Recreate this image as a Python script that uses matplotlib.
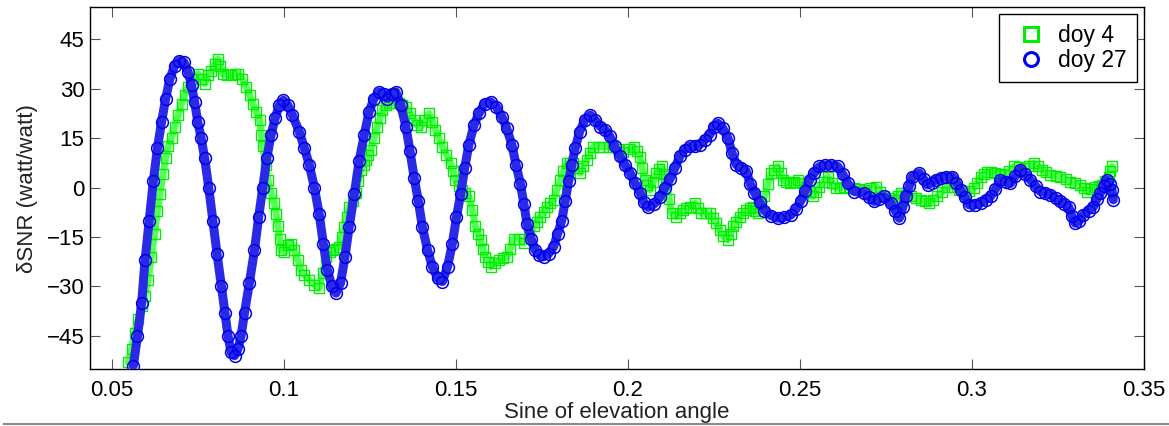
#!/usr/bin/env python3

import matplotlib
matplotlib.use('Agg')
import matplotlib.pyplot as plt
from matplotlib.lines import Line2D
import numpy as np


# doy 27 (blue circles)
doy27_x = [0.0563, 0.0575, 0.0587, 0.0597, 0.0609, 0.0621, 0.0633, 0.0645, 0.0657, 0.0669,
           0.0683, 0.0697, 0.0710, 0.0722, 0.0732, 0.0741, 0.0750, 0.0760, 0.0770, 0.0782,
           0.0794, 0.0806, 0.0819, 0.0829, 0.0838, 0.0847, 0.0857, 0.0867, 0.0876, 0.0886,
           0.0900, 0.0915, 0.0927, 0.0939, 0.0951, 0.0963, 0.0975, 0.0987, 0.0999, 0.1012,
           0.1025, 0.1045, 0.1060, 0.1074, 0.1089, 0.1103, 0.1115, 0.1127, 0.1140, 0.1152,
           0.1165, 0.1178, 0.1190, 0.1205, 0.1219, 0.1234, 0.1248, 0.1262, 0.1277, 0.1290,
           0.1301, 0.1314, 0.1326, 0.1340, 0.1355, 0.1367, 0.1379, 0.1391, 0.1403, 0.1418,
           0.1432, 0.1447, 0.1461, 0.1476, 0.1490, 0.1502, 0.1514, 0.1526, 0.1538, 0.1553,
           0.1567, 0.1584, 0.1601, 0.1618, 0.1634, 0.1648, 0.1663, 0.1675, 0.1688, 0.1698,
           0.1707, 0.1719, 0.1731, 0.1743, 0.1755, 0.1770, 0.1784, 0.1796, 0.1808, 0.1818,
           0.1828, 0.1837, 0.1847, 0.1860, 0.1875, 0.1891, 0.1905, 0.1920, 0.1934, 0.1948,
           0.1962, 0.1977, 0.1991, 0.2006, 0.2020, 0.2035, 0.2047, 0.2059, 0.2076, 0.2093,
           0.2108, 0.2122, 0.2137, 0.2151, 0.2166, 0.2180, 0.2195, 0.2209, 0.2224, 0.2238,
           0.2250, 0.2262, 0.2276, 0.2291, 0.2303, 0.2315, 0.2330, 0.2344, 0.2356, 0.2368,
           0.2383, 0.2397, 0.2416, 0.2436, 0.2455, 0.2474, 0.2489, 0.2503, 0.2515, 0.2528,
           0.2542, 0.2557, 0.2574, 0.2590, 0.2610, 0.2625, 0.2639, 0.2658, 0.2687, 0.2702,
           0.2716, 0.2730, 0.2745, 0.2764, 0.2777, 0.2789, 0.2799, 0.2808, 0.2818, 0.2827,
           0.2847, 0.2860, 0.2871, 0.2883, 0.2895, 0.2910, 0.2924, 0.2943, 0.2955, 0.2967,
           0.2980, 0.2991, 0.3008, 0.3025, 0.3040, 0.3054, 0.3068, 0.3083, 0.3098, 0.3112,
           0.3126, 0.3141, 0.3155, 0.3170, 0.3185, 0.3199, 0.3213, 0.3228, 0.3243, 0.3257,
           0.3269, 0.3281, 0.3290, 0.3300, 0.3312, 0.3324, 0.3339, 0.3353, 0.3363, 0.3373,
           0.3383, 0.3392, 0.3400, 0.3407, 0.3411]
doy27_y = [-54, -45, -35, -22, -10, 2, 12, 20, 27, 33,
           37, 38.5, 38, 35, 31, 26, 20, 15, 9, 0,
           -10, -20, -30, -38, -45, -50, -51, -49, -45, -38,
           -29, -19, -9, 0, 9, 16, 21, 25, 26.5, 25,
           22, 17, 12, 7, 0, -8, -17, -25, -30, -32,
           -29, -21, -12, -2, 8, 16, 23, 27, 29, 28.5,
           27, 28.5, 29, 25, 18.5, 11, 3, -4, -12, -19,
           -24, -27.5, -28.5, -24, -17, -9, -2, 6, 13, 19,
           22.5, 25.5, 26, 24.5, 21.5, 18, 13, 7, 1, -5,
           -11, -15.5, -19, -20.5, -21, -20, -18, -14, -10, -4,
           2, 7, 12, 17, 20.5, 22, 20.5, 18.5, 17.5, 15.5,
           12.5, 9.5, 7, 4.5, 1.5, -1.5, -4.5, -6, -5, -3,
           0, 2.5, 6, 9.5, 11.5, 12.5, 12.5, 13, 14.5, 16,
           18.5, 19.5, 18, 15, 10.5, 7, 6, 5, 1, -1.5,
           -4.5, -7, -8.5, -9.3, -9, -8.3, -6.5, -4, -1, 2.3,
           4.5, 6.4, 6.8, 6.9, 6.4, 4, 1.3, -1.2, -1.7, -3,
           -4.2, -3.5, -2.7, -4.7, -7, -9.3, -6, -2.7, 0.5, 3.3,
           4.4, 2.5, 0.8, 1.5, 2.3, 3, 3.3, 3.3, 1.5, -0.7,
           -3, -5.2, -5.3, -4.7, -3.7, -2.7, -0.5, 2.3, 1.8, 1.3,
           3.5, 5.4, 4, 2.3, 0.5, -1.2, -1.5, -2.2, -3.2, -4.2,
           -5, -5.8, -8.5, -10.8, -10, -8.3, -7, -5.8, -3.5, -1.7,
           0.5, 2.3, 1, -0.7, -3.7]

# doy 4 (green squares)
doy4_x = [0.0548, 0.0558, 0.0567, 0.0577, 0.0587, 0.0596, 0.0606, 0.0615, 0.0625, 0.0633,
          0.0640, 0.0649, 0.0657, 0.0664, 0.0674, 0.0683, 0.0693, 0.0703, 0.0712, 0.0722,
          0.0737, 0.0751, 0.0760, 0.0770, 0.0780, 0.0790, 0.0800, 0.0809, 0.0816, 0.0823,
          0.0836, 0.0848, 0.0858, 0.0867, 0.0879, 0.0891, 0.0901, 0.0910, 0.0920, 0.0930,
          0.0935, 0.0939, 0.0947, 0.0954, 0.0963, 0.0973, 0.0978, 0.0983, 0.0988, 0.0992,
          0.1002, 0.1012, 0.1021, 0.1031, 0.1041, 0.1050, 0.1060, 0.1074, 0.1089, 0.1103,
          0.1113, 0.1123, 0.1133, 0.1142, 0.1152, 0.1161, 0.1168, 0.1176, 0.1183, 0.1190,
          0.1200, 0.1210, 0.1217, 0.1224, 0.1232, 0.1239, 0.1246, 0.1253, 0.1262, 0.1272,
          0.1280, 0.1287, 0.1296, 0.1306, 0.1320, 0.1335, 0.1345, 0.1355, 0.1367, 0.1379,
          0.1388, 0.1398, 0.1410, 0.1422, 0.1432, 0.1441, 0.1451, 0.1461, 0.1473, 0.1485,
          0.1492, 0.1499, 0.1509, 0.1519, 0.1528, 0.1538, 0.1548, 0.1557, 0.1565, 0.1572,
          0.1579, 0.1586, 0.1594, 0.1601, 0.1613, 0.1625, 0.1637, 0.1649, 0.1658, 0.1668,
          0.1683, 0.1697, 0.1712, 0.1726, 0.1736, 0.1746, 0.1755, 0.1765, 0.1775, 0.1784,
          0.1794, 0.1804, 0.1813, 0.1823, 0.1833, 0.1842, 0.1852, 0.1862, 0.1871, 0.1881,
          0.1891, 0.1900, 0.1915, 0.1929, 0.1944, 0.1958, 0.1972, 0.1987, 0.2002, 0.2017,
          0.2026, 0.2035, 0.2042, 0.2050, 0.2057, 0.2064, 0.2074, 0.2083, 0.2090, 0.2098,
          0.2105, 0.2112, 0.2120, 0.2127, 0.2141, 0.2151, 0.2161, 0.2170, 0.2180, 0.2195,
          0.2205, 0.2214, 0.2226, 0.2238, 0.2248, 0.2257, 0.2267, 0.2277, 0.2291, 0.2299,
          0.2306, 0.2315, 0.2325, 0.2335, 0.2344, 0.2354, 0.2364, 0.2371, 0.2378, 0.2388,
          0.2397, 0.2407, 0.2417, 0.2426, 0.2436, 0.2444, 0.2451, 0.2460, 0.2470, 0.2482,
          0.2494, 0.2506, 0.2518, 0.2528, 0.2537, 0.2547, 0.2557, 0.2569, 0.2581, 0.2593,
          0.2605, 0.2617, 0.2629, 0.2644, 0.2658, 0.2673, 0.2687, 0.2704, 0.2721, 0.2733,
          0.2745, 0.2760, 0.2774, 0.2784, 0.2793, 0.2808, 0.2822, 0.2837, 0.2851, 0.2863,
          0.2875, 0.2887, 0.2899, 0.2914, 0.2928, 0.2948, 0.2962, 0.2977, 0.2991, 0.3006,
          0.3015, 0.3025, 0.3034, 0.3044, 0.3056, 0.3068, 0.3081, 0.3093, 0.3108, 0.3122,
          0.3137, 0.3151, 0.3166, 0.3180, 0.3192, 0.3204, 0.3216, 0.3228, 0.3243, 0.3257,
          0.3272, 0.3286, 0.3300, 0.3315, 0.3325, 0.3335, 0.3346, 0.3358, 0.3368, 0.3378,
          0.3388, 0.3397, 0.3402, 0.3407]
doy4_y = [-53, -49, -44, -40, -36, -33, -28, -21, -14, -7,
          -2, 4, 9, 12.5, 15, 18.5, 22, 25.5, 28, 30.5,
          33, 34.5, 33, 31.5, 34, 35.5, 37.5, 39, 37, 34.5,
          34, 34, 34.5, 34.5, 33, 30.5, 28, 25.5, 23, 20.5,
          16, 12.5, 7, 2.3, -1.5, -4.7, -8, -11.8, -15.5, -19,
          -19.5, -17.5, -17, -19, -22, -25, -26.5, -28, -29.5, -30.5,
          -26, -21, -19.5, -19, -18.5, -18, -15, -12, -9, -6,
          -4, -1.7, 2, 5.4, 7, 8.4, 10, 11.5, 15, 18.5,
          21, 23.5, 25, 25.6, 25.6, 25.6, 25, 24.5, 22.5, 20.5,
          19, 18.5, 20.5, 22.5, 20, 17.5, 15, 12.4, 10, 7.4,
          5, 2.3, 0.5, -0.7, -1.7, -2.7, -6.8, -11.8, -14, -15.8,
          -18.5, -21, -22.5, -24, -23, -22, -21.5, -21, -18.5, -15.5,
          -15.5, -16.8, -14.5, -11.8, -10.3, -8.8, -7.3, -5.8, -4.8, -3.7,
          -0.7, 2.3, 5, 7.4, 7.4, 7.4, 6, 4.4, 6.5, 8.4,
          10.5, 12.4, 12.4, 12.4, 12.4, 12.4, 11.6, 10.9, 11.6, 12.4,
          11, 9.4, 6, 2.3, 0.8, -0.7, 1.8, 4.4, 5.5, 6.4,
          4, 1.3, -3.5, -7.8, -8.8, -7.8, -6.8, -6.3, -5.8, -4.7,
          -6.3, -7.8, -7.8, -7.8, -9.3, -10.8, -12.8, -14.8, -15.8, -14,
          -11.8, -10.3, -8.8, -7.8, -6.8, -6.3, -5.8, -7, -7.8, -5,
          -2.7, 1, 4.4, 5.4, 6.4, 4.3, 2.3, 1.8, 1.3, 1.8,
          2.3, 1.3, 0.3, -1.2, -2.7, -1.2, 0.3, 1.8, 3.3, 1.5,
          -0.2, 0, 0.3, 0, -0.2, -0.5, -0.7, -0.2, 0.3, -1.2,
          -2.7, -3.2, -3.7, -2.7, -1.7, -2.2, -2.7, -3.2, -3.7, -4.2,
          -4.7, -3.7, -2.7, -1.2, 0.3, 0.3, -0.7, -1.7, -1, -0.2,
          1.5, 3.3, 4, 4.8, 4.6, 4.4, 4.1, 3.8, 5.1, 6.4,
          6.1, 5.9, 6.6, 7.4, 6.4, 5.4, 4.6, 3.8, 3.5, 3.3,
          2.5, 1.8, 1.3, 0.8, -0.2, -1.2, -0.5, 0.3, 0.5, 0.8,
          2, 3.3, 5, 6.4]

x_ticks = [0.05, 0.1, 0.15, 0.2, 0.25, 0.3, 0.35]
x_tick_labels = ['0.05', '0.1', '0.15', '0.2', '0.25', '0.3', '0.35']
y_ticks = [-45, -30, -15, 0, 15, 30, 45]


def main():

    plt.rcParams['font.family'] = ['Liberation Sans', 'DejaVu Sans']

    fig = plt.figure(figsize=(11.69, 4.26), dpi=100)
    ax = fig.add_axes([0.077, 0.134, 0.9016, 0.849])

    # green band, then hollow squares on top
    ax.plot(doy4_x, doy4_y, color='#55ff55', linewidth=5, solid_capstyle='round', zorder=2)
    ax.plot(doy4_x, doy4_y, linestyle='none', marker='s', markersize=6.5,
            markerfacecolor='none', markeredgecolor='#00ee00', markeredgewidth=1.0,
            label='doy 4', zorder=3)

    # blue band, then hollow circles
    ax.plot(doy27_x, doy27_y, color='#2a2ae6', linewidth=6.5, solid_capstyle='round', zorder=4)
    ax.plot(doy27_x, doy27_y, linestyle='none', marker='o', markersize=8.5,
            markerfacecolor='none', markeredgecolor='#0000f0', markeredgewidth=1.1,
            label='doy 27', zorder=5)

    ax.set_xlim(0.0437, 0.35)
    ax.set_ylim(-55, 54.7)
    ax.set_xticks(x_ticks)
    ax.set_xticklabels(x_tick_labels)
    ax.set_yticks(y_ticks)

    ax.tick_params(direction='in', length=7, width=0.8, color='#555555',
                   labelsize=16, top=True, right=True)
    ax.tick_params(axis='x', pad=8)
    ax.tick_params(axis='y', pad=4)
    for s in ax.spines.values():
        s.set_linewidth(1.0)
        s.set_color('black')

    ax.set_xlabel('Sine of elevation angle', fontsize=16, labelpad=1, color='#222222')
    ax.set_ylabel('δSNR (watt/watt)', fontsize=16, labelpad=6, color='#222222')

    leg = ax.legend(loc='upper right', fontsize=16.5, frameon=True, fancybox=False,
                    edgecolor='black', framealpha=1, borderpad=0.45, handlelength=1.9,
                    handletextpad=0.22, labelspacing=0.05, borderaxespad=0.3)
    leg.get_frame().set_linewidth(1.0)
    for h in leg.legend_handles:
        h.set_markersize(10)
        h.set_markeredgewidth(2.2)

    # grey edge along the bottom of the original screenshot
    fig.add_artist(Line2D([0.003, 1.0], [0.005, 0.005], transform=fig.transFigure,
                          color='#8a8a8a', linewidth=1.5))

    plt.savefig('out.png', dpi=100)


if __name__ == "__main__":
    main()
